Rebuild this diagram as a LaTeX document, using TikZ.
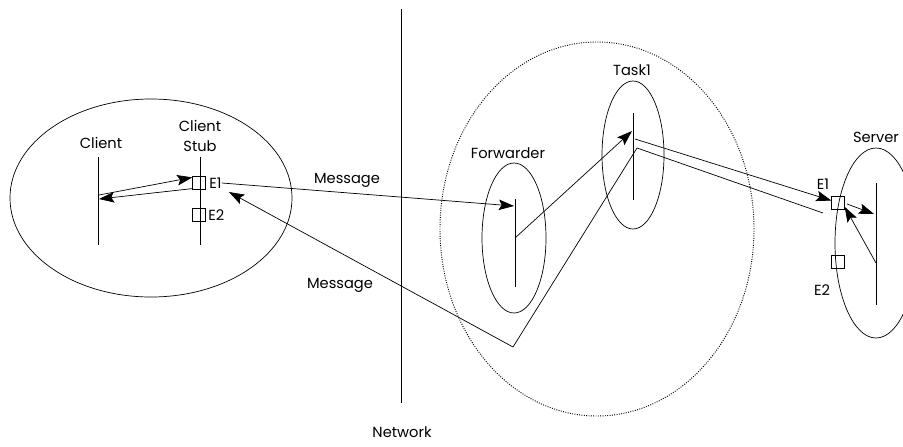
\documentclass[tikz,border=0pt]{standalone}
\usepackage{fontspec}
\setmainfont{Poppins}
\usetikzlibrary{shapes.geometric,arrows.meta}

\begin{document}
\begin{tikzpicture}[x=0.03cm, y=-0.03cm, line width=0.6pt,
  font=\fontsize{12.5}{17}\selectfont,
  msg/.style={-{Stealth[length=13pt,width=9pt,inset=2.5pt]}}]
\useasboundingbox (0,0) rectangle (903,446);

% process bubbles
\begin{scope}[every node/.style = {ellipse, draw, inner sep=0pt}]
\node[minimum width=8.46cm, minimum height=5.94cm] (Cli) at (151,198) {};
\node[line width=0.8pt, dash pattern=on 0.8pt off 1.2pt, minimum width=9.42cm, minimum height=11.22cm] (Net) at (597,229) {};
\node[minimum width=1.92cm, minimum height=4.5cm] (Fwd) at (514,238) {};
\node[minimum width=1.86cm, minimum height=4.44cm] (Tsk) at (633,155) {};
\node[minimum width=2.46cm, minimum height=5.7cm] (Srv) at (876,243) {};
\end{scope}

% names
\begin{scope}[every node/.style = {inner sep=0pt}]
\node (CliLbl) at (101,143) {Client};
\node[align=center] (StubLbl) at (200,136) {Client\\Stub};
\node (FwdLbl) at (508,153) {Forwarder};
\node (TskLbl) at (632,70) {Task1};
\node (SrvLbl) at (876,137) {Server};
\node (NetLbl) at (402,432) {Network};
\node (MsgOut) at (347,180) {Message};
\node (MsgBack) at (340,285) {Message};
\node[anchor=west] (CE1Lbl) at (209,183) {E1};
\node[anchor=west] (CE2Lbl) at (208,215) {E2};
\node (SE1Lbl) at (823,184) {E1};
\node (SE2Lbl) at (822,290) {E2};
\end{scope}

% entry boxes
\begin{scope}[every node/.style = {rectangle, draw, minimum size=0.38cm, inner sep=0pt}]
\node (CE1) at (199,183) {};
\node (CE2) at (199,215) {};
\node (SE1) at (838,203) {};
\node (SE2) at (838,262) {};
\end{scope}

% lifelines
\coordinate (CliTop) at (98,157);
\coordinate (CliBot) at (98,245);
\coordinate (StubTop) at (200,157);
\coordinate (StubBot) at (200,245);
\coordinate (FwdTop) at (515,199);
\coordinate (FwdBot) at (515,287);
\coordinate (TskTop) at (633,113);
\coordinate (TskBot) at (633,200);
\coordinate (SrvTop) at (876,183);
\coordinate (SrvBot) at (876,305);
\coordinate (NetTop) at (401,9);
\coordinate (NetBot) at (401,403);
\draw (CliTop) -- (CliBot);
\draw (StubTop) -- (StubBot);
\draw (FwdTop) -- (FwdBot);
\draw (TskTop) -- (TskBot);
\draw (SrvTop) -- (SrvBot);
\draw (NetTop) -- (NetBot);

% message ends
\coordinate (CliOut) at (99,195);
\coordinate (CliIn) at (99,199);
\coordinate (StubIn) at (229,192);
\coordinate (FwdIn) at (514,206);
\coordinate (FwdOut) at (515,238);
\coordinate (TskIn) at (632,131);
\coordinate (TskOut) at (635,139);
\coordinate (TskBend) at (637,148);
\coordinate (FwdBend) at (513,347);
\coordinate (SrvBack) at (823,213);
\coordinate (SE1Out) at (847,204);
\coordinate (SrvIn) at (874,214);
\coordinate (SrvOut) at (876,263);

\begin{scope}[every edge/.style = {draw, msg}]
\path (CliOut) edge (CE1.140);
\path (CE1.220) edge (CliIn);
\path (CE1Lbl.east) edge (FwdIn);
\path (FwdOut) edge (TskIn);
\path (TskOut) edge (SE1.160);
\path (SE1Out) edge (SrvIn);
\path (SrvOut) edge (SE1.-30);
\end{scope}
\draw[msg] (SrvBack) -- (TskBend) -- (FwdBend) -- (StubIn);
\end{tikzpicture}
\end{document}
